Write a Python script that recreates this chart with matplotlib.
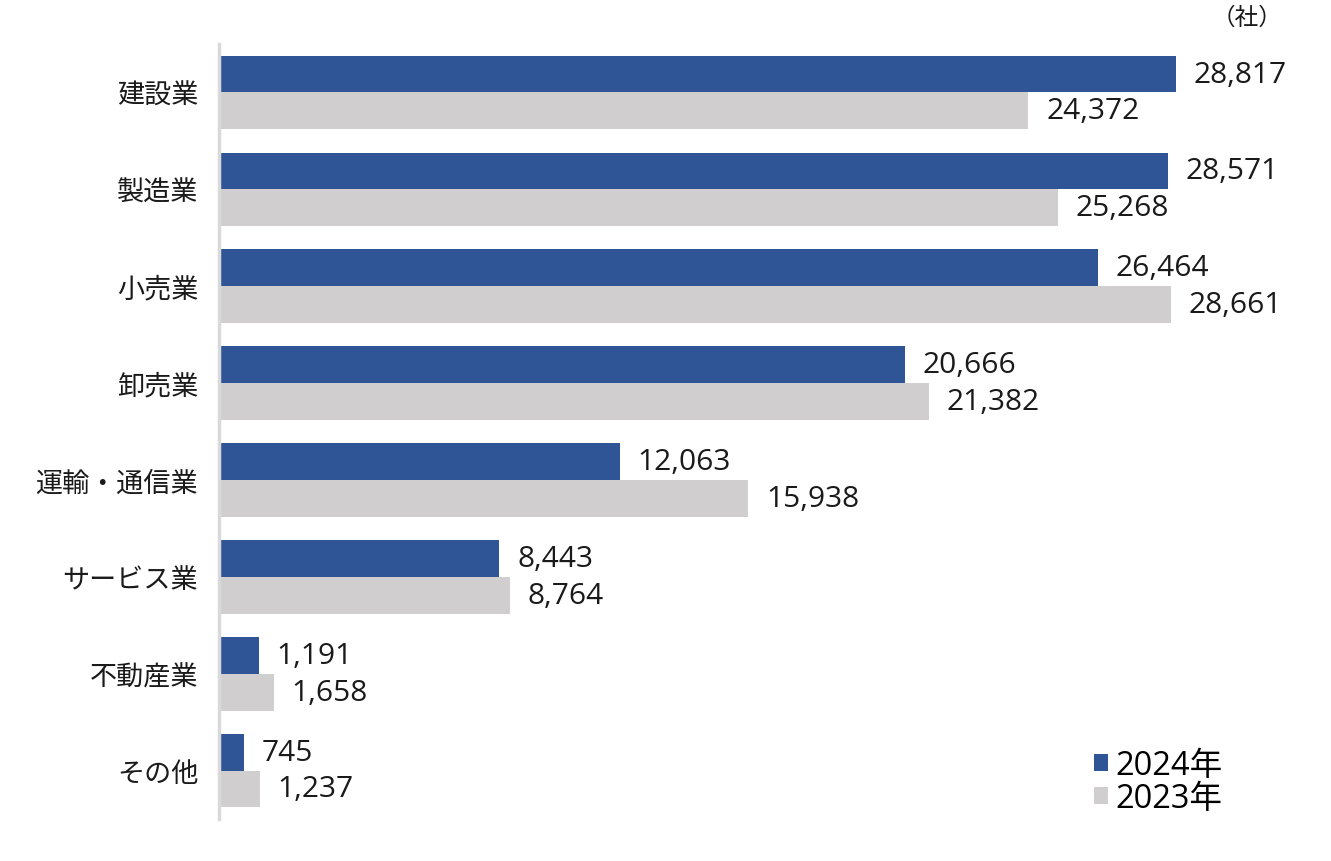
import matplotlib
matplotlib.use("Agg")
import matplotlib.pyplot as plt
from matplotlib.patches import Patch
import numpy as np

plt.rcParams['font.family'] = ['Noto Sans CJK JP', 'DejaVu Sans']
num_font = ['Open Sans', 'Noto Sans CJK JP']

# データ
categories = ['建設業', '製造業', '小売業', '卸売業', '運輸・通信業', 'サービス業', '不動産業', 'その他']
v2024 = [28817, 28571, 26464, 20666, 12063, 8443, 1191, 745]
v2023 = [24372, 25268, 28661, 21382, 15938, 8764, 1658, 1237]
series_labels = ['2024年', '2023年']

navy = '#2F5597'
gray = '#D0CECE'

fig = plt.figure(figsize=(13.31, 8.62), dpi=100)
W, H = 1331, 862
ax = fig.add_axes([219 / W, 1 - 820 / H, (1315 - 219) / W, (820 - 45) / H])

y = np.arange(len(categories))
h = 0.38
ax.barh(y - h / 2, v2024, height=h, color=navy)
ax.barh(y + h / 2, v2023, height=h, color=gray)

for yi, a, b in zip(y, v2024, v2023):
    ax.text(a + 530, yi - h / 2, f'{a:,}', va='center', ha='left', fontsize=21.5,
            family=num_font, color='#1a1a1a')
    ax.text(b + 530, yi + h / 2, f'{b:,}', va='center', ha='left', fontsize=21.5,
            family=num_font, color='#1a1a1a')

ax.set_xlim(0, 33000)
ax.set_ylim(len(categories) - 0.5, -0.5)
ax.set_yticks(y)
ax.set_yticklabels(categories, fontsize=19.5, color='#1a1a1a')
ax.tick_params(axis='y', length=0, pad=15)
ax.set_xticks([])
for s in ['top', 'right', 'bottom']:
    ax.spines[s].set_visible(False)
ax.spines['left'].set_color('#D9D9D9')
ax.spines['left'].set_linewidth(2.5)

# 単位
fig.text(1247 / W, 1 - 18 / H, '（社）', ha='center', va='center', fontsize=17, color='#1a1a1a')

# 凡例
handles = [Patch(facecolor=navy), Patch(facecolor=gray)]
leg = ax.legend(handles, series_labels, loc='lower left', bbox_to_anchor=(1094 / W, 1 - 816 / H),
                bbox_transform=fig.transFigure, frameon=False,
                prop={'family': num_font, 'size': 23.5},
                handlelength=0.42, handleheight=0.42, handletextpad=0.24, labelspacing=0.0,
                borderpad=0, borderaxespad=0)

fig.savefig('out.png', dpi=100)
